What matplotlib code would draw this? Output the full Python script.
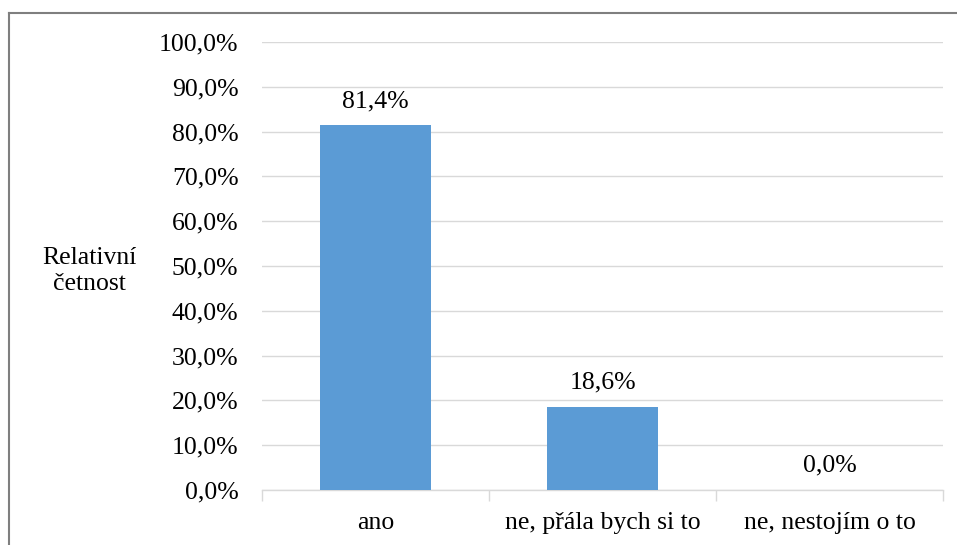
import matplotlib
matplotlib.use('Agg')
import matplotlib.pyplot as plt
from matplotlib.lines import Line2D

categories = ['ano', 'ne, přála bych si to', 'ne, nestojím o to']
values = [81.4, 18.6, 0.0]
yticks = [0, 10, 20, 30, 40, 50, 60, 70, 80, 90, 100]

plt.rcParams['font.family'] = ['Liberation Serif', 'DejaVu Serif']
fs = 18.5

fig = plt.figure(figsize=(9.57, 5.45), dpi=100)
ax = fig.add_axes([262 / 957, 1 - 490 / 545, (943 - 262) / 957, (490 - 42) / 545])

x = range(len(categories))
bars = ax.bar(x, values, width=0.485, color='#5B9BD5', zorder=3)

ax.set_xlim(-0.5, len(categories) - 0.5)
ax.set_ylim(0, 100)
ax.set_yticks(yticks)
ax.yaxis.set_major_formatter(matplotlib.ticker.FuncFormatter(
    lambda v, p: ('%.1f%%' % v).replace('.', ',')))
ax.tick_params(axis='y', length=0, pad=17, labelsize=fs, colors='#000000')
ax.grid(axis='y', color='#D9D9D9', linewidth=1.0, zorder=0)

# category labels between boundary ticks
ax.set_xticks([i - 0.5 for i in range(len(categories) + 1)])
ax.set_xticklabels([])
ax.set_xticks(list(x), minor=True)
ax.set_xticklabels(categories, minor=True, fontsize=fs)
ax.tick_params(axis='x', which='major', length=8, color='#D9D9D9', width=1.0)
ax.tick_params(axis='x', which='minor', length=0, pad=16)

for s in ['top', 'right', 'left']:
    ax.spines[s].set_visible(False)
ax.spines['bottom'].set_color('#D9D9D9')
ax.spines['bottom'].set_linewidth(1.0)

for rect, v in zip(bars, values):
    ax.annotate(('%.1f%%' % v).replace('.', ','),
                (rect.get_x() + rect.get_width() / 2, v),
                xytext=(0, 9.5), textcoords='offset points',
                ha='center', va='bottom', fontsize=fs)

fig.text(89 / 957, 1 - 271 / 545, 'Relativní\nčetnost', ha='center', va='center',
         fontsize=fs, linespacing=1.2)

# outer frame (only left and top visible in the crop)
fig.add_artist(Line2D([9 / 957, 9 / 957], [0, 1 - 13 / 545], transform=fig.transFigure,
                      color='#7F7F7F', linewidth=1.5))
fig.add_artist(Line2D([9 / 957, 1], [1 - 13 / 545, 1 - 13 / 545], transform=fig.transFigure,
                      color='#7F7F7F', linewidth=1.5))

fig.savefig('out.png', dpi=100)
